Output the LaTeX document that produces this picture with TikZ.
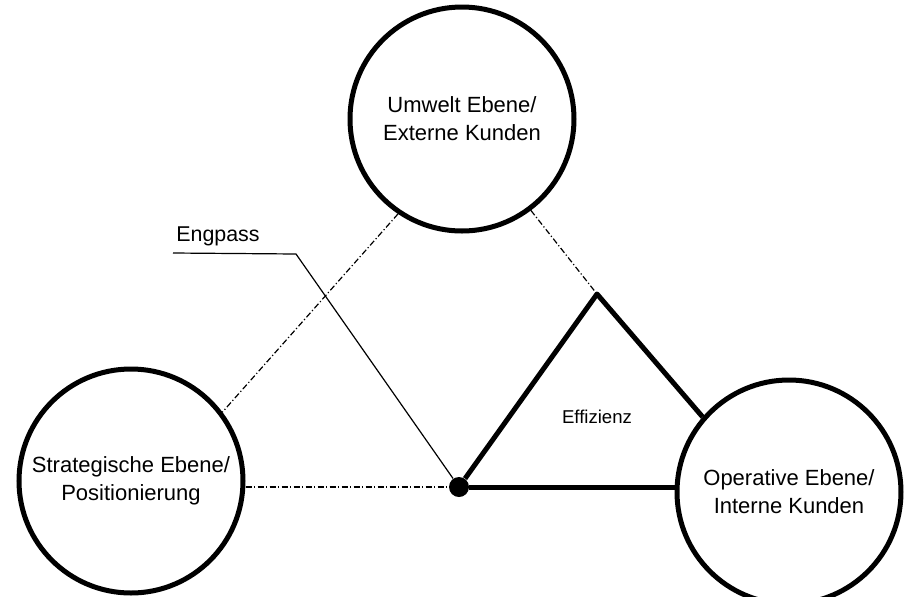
\documentclass[tikz,border=0pt]{standalone}
\usepackage{fontspec}
\setmainfont{Liberation Sans}
\tikzset{
ebene/.style={circle, draw, line width=2.5pt, inner sep=0pt, minimum size=112pt, align=center, font=\fontsize{11}{14}\selectfont}, % the three big circles
dick/.style={line width=2.5pt, line join=round}, % the thick sides of the triangle
strichpunkt/.style={line width=0.6pt, dash pattern=on 3pt off 1.2pt on 0.6pt off 1.2pt}, % dash-dot lines
punkt/.style={circle, fill, inner sep=0pt, minimum size=10pt}, % the black dot
}

\begin{document}
\begin{tikzpicture}[x=0.5pt, y=-0.5pt]
\useasboundingbox (0,0) rectangle (907,596);

\node[ebene] at (462, 119) (umwelt) {Umwelt Ebene/\\Externe Kunden};
\node[ebene] at (131, 481) (strategie) {Strategische Ebene/\\Positionierung};
\node[ebene] at (789, 492) (operativ) {Operative Ebene/\\Interne Kunden};

\node[punkt] at (459, 487) (engstelle) {};
\coordinate (spitze) at (597, 294);
\node[font=\fontsize{9.3}{11}\selectfont] at (597, 417) (effizienz) {Effizienz};

\node[font=\fontsize{10.7}{13}\selectfont] at (218, 236) (engpass) {Engpass};
\coordinate (engA) at (173, 253);
\coordinate (engB) at (296, 254);

\draw[strichpunkt] (umwelt.236) -- (strategie.37);
\draw[strichpunkt] (umwelt.307) -- (spitze);
\draw[strichpunkt] (engstelle -| strategie.east) -- (engstelle);

\draw[dick] (engstelle) -- (spitze) -- (operativ.139);
\draw[dick] (engstelle) -- (engstelle -| operativ.west);

\draw[line width=0.6pt] (engA) -- (engB) -- (engstelle);

\end{tikzpicture}
\end{document}
